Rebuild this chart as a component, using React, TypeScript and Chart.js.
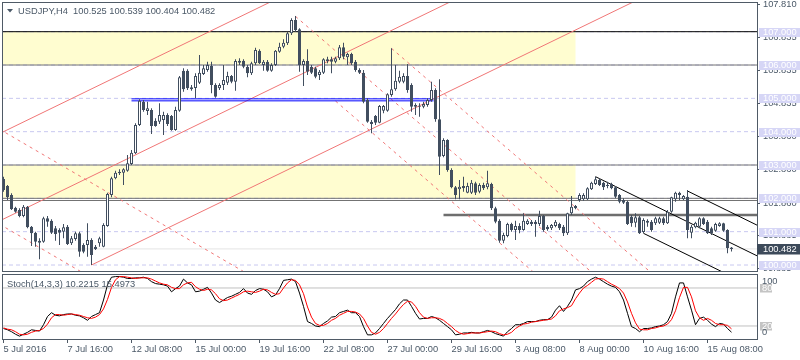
import React, { useEffect, useRef } from "react";
import { Chart, registerables } from "chart.js";
Chart.register(...registerables);

// ---------- DATA ----------
const symbol = "USDJPY,H4";

const opens = [
  102.58, 102.37, 102.10, 101.72, 101.65, 101.47, 101.75, 101.15, 100.97, 100.73,
  100.70, 101.40, 101.33, 101.10, 101.05, 101.00, 101.15, 100.65, 100.78, 100.95,
  100.60, 100.60, 100.75, 100.55, 100.65, 100.55, 101.17, 102.10, 102.60, 102.80,
  102.77, 102.83, 103.03, 103.35, 104.20, 104.90, 104.62, 104.65, 104.33, 104.30,
  104.35, 104.50, 104.47, 104.05, 104.63, 105.83, 105.83, 105.33, 105.31, 105.47,
  105.73, 105.85, 105.98, 105.40, 105.30, 105.40, 105.47, 105.67, 105.50, 106.13,
  106.13, 105.95, 105.75, 106.05, 106.43, 106.00, 106.10, 105.83, 106.00, 106.40,
  106.55, 106.65, 106.95, 107.35, 107.07, 106.00, 106.12, 105.95, 105.90, 105.70,
  105.77, 106.12, 106.17, 106.10, 106.20, 106.53, 106.23, 106.33, 106.10, 105.85,
  105.77, 104.95, 104.30, 104.47, 104.27, 104.63, 104.63, 105.10, 105.27, 105.50,
  105.50, 105.67, 105.40, 104.75, 104.78, 104.75, 104.80, 104.95, 105.25, 104.37,
  103.27, 103.75, 102.85, 102.33, 102.27, 102.37, 102.17, 102.17, 102.45, 102.20,
  102.40, 102.33, 102.43, 101.70, 101.33, 100.73, 100.87, 101.23, 101.05, 101.17,
  101.05, 101.23, 101.30, 101.30, 101.23, 101.47, 101.15, 101.10, 101.17, 101.23,
  101.15, 100.95, 101.55, 101.77, 101.95, 101.97, 101.97, 102.27, 102.43, 102.55,
  102.47, 102.40, 102.43, 102.33, 102.10, 101.95, 101.90, 101.45, 101.27, 101.43,
  100.99, 101.33, 101.30, 101.25, 101.27, 101.40, 101.25, 101.60, 101.97, 102.17,
  101.97, 102.05, 100.97, 101.13, 101.15, 101.40, 101.30, 101.10, 101.03, 101.17,
  101.25, 101.05, 100.525,
];

const highs = [
  102.65, 102.40, 102.15, 101.75, 101.70, 101.80, 101.77, 101.17, 101.00, 100.80,
  101.45, 101.47, 101.37, 101.17, 101.10, 101.23, 101.20, 100.87, 101.00, 101.00,
  100.65, 101.25, 100.80, 100.60, 100.85, 101.25, 102.17, 102.65, 102.83, 102.87,
  102.90, 103.30, 103.45, 104.25, 104.97, 104.95, 104.90, 104.70, 104.40, 104.85,
  104.60, 104.55, 104.50, 104.75, 105.67, 105.90, 105.87, 105.40, 105.75, 106.30,
  106.00, 106.10, 106.10, 105.45, 105.45, 106.00, 105.80, 105.70, 106.17, 106.20,
  106.17, 106.00, 106.10, 106.52, 106.47, 106.15, 106.15, 106.05, 106.45, 106.67,
  106.77, 107.00, 107.40, 107.47, 107.10, 106.17, 106.47, 106.00, 105.95, 105.85,
  106.20, 106.25, 106.25, 106.25, 106.60, 106.67, 106.37, 106.37, 106.15, 105.90,
  105.85, 105.00, 104.35, 104.50, 104.80, 104.80, 105.15, 106.50, 106.00, 105.83,
  105.75, 106.03, 105.45, 104.85, 104.85, 104.90, 105.00, 105.50, 105.30, 105.57,
  103.80, 103.77, 102.90, 102.37, 102.55, 102.65, 102.47, 102.55, 102.50, 102.45,
  102.47, 102.83, 102.47, 101.75, 101.37, 100.97, 101.27, 101.27, 101.33, 101.25,
  101.55, 101.37, 101.35, 101.35, 101.63, 101.50, 101.20, 101.23, 101.35, 101.27,
  101.20, 101.57, 102.07, 101.80, 102.15, 102.15, 102.33, 102.50, 102.65, 102.60,
  102.50, 102.50, 102.47, 102.37, 102.13, 102.00, 101.93, 101.50, 101.55, 101.47,
  101.40, 101.37, 101.35, 101.45, 101.45, 101.45, 101.65, 102.05, 102.20, 102.20,
  102.10, 102.25, 101.20, 101.30, 101.43, 101.43, 101.35, 101.15, 101.27, 101.28,
  101.27, 101.07, 100.539,
];

const lows = [
  102.20, 101.95, 101.65, 101.57, 101.43, 101.43, 101.10, 100.57, 100.55, 100.17,
  100.67, 101.15, 100.93, 100.73, 100.60, 100.80, 100.60, 100.60, 100.73, 100.25,
  100.35, 100.25, 100.00, 100.45, 100.55, 100.53, 101.15, 102.03, 102.57, 102.70,
  102.40, 102.80, 103.00, 103.33, 104.17, 104.60, 104.50, 103.93, 104.15, 104.23,
  103.90, 104.17, 104.03, 104.03, 104.60, 105.20, 105.25, 105.23, 105.00, 105.43,
  105.70, 105.80, 105.15, 105.02, 105.25, 105.25, 105.40, 105.45, 105.23, 106.00,
  105.90, 105.63, 105.70, 106.00, 106.03, 105.83, 105.80, 105.80, 105.97, 106.37,
  106.50, 106.60, 106.90, 107.00, 105.80, 105.37, 105.70, 105.73, 105.60, 105.55,
  105.73, 106.05, 105.75, 106.05, 106.15, 106.17, 106.00, 106.00, 105.80, 105.73,
  104.85, 104.27, 103.95, 104.20, 104.25, 104.55, 104.60, 105.05, 105.23, 105.45,
  105.45, 105.17, 104.60, 104.50, 104.45, 104.70, 104.75, 104.90, 104.30, 102.70,
  103.23, 102.80, 102.30, 101.97, 101.97, 102.20, 102.15, 102.13, 102.10, 102.15,
  102.25, 102.27, 101.65, 101.25, 100.67, 100.65, 100.83, 101.00, 100.75, 100.95,
  101.03, 101.20, 101.17, 100.85, 101.17, 101.00, 101.03, 101.05, 101.13, 101.05,
  100.87, 100.90, 101.50, 101.67, 101.90, 101.93, 101.95, 102.25, 102.40, 102.37,
  102.25, 102.30, 102.27, 102.00, 101.85, 101.83, 101.20, 101.15, 101.13, 100.93,
  100.95, 101.15, 101.00, 101.20, 101.23, 101.20, 101.23, 101.57, 101.90, 101.95,
  101.95, 100.80, 100.80, 101.10, 101.10, 101.20, 100.93, 100.90, 101.00, 101.15,
  101.00, 100.35, 100.404,
];

const closes = [
  102.25, 102.03, 101.67, 101.60, 101.47, 101.75, 101.13, 100.95, 100.70, 100.67,
  101.40, 101.30, 100.97, 100.93, 100.97, 101.13, 100.63, 100.80, 100.95, 100.40,
  100.40, 100.75, 100.30, 100.47, 100.80, 101.20, 102.13, 102.60, 102.77, 102.75,
  102.87, 103.05, 103.37, 104.20, 104.93, 104.65, 104.70, 104.17, 104.17, 104.50,
  104.50, 104.23, 104.05, 104.65, 105.63, 105.27, 105.30, 105.27, 105.67, 105.77,
  105.90, 106.00, 105.40, 105.05, 105.40, 105.55, 105.67, 105.50, 106.12, 106.07,
  105.95, 105.75, 106.05, 106.45, 106.05, 106.10, 105.83, 106.00, 106.43, 106.55,
  106.67, 106.95, 107.35, 107.05, 106.00, 106.12, 105.80, 105.77, 105.65, 105.80,
  106.17, 106.17, 106.10, 106.20, 106.53, 106.25, 106.33, 106.05, 105.85, 105.77,
  104.90, 104.30, 104.23, 104.27, 104.77, 104.77, 105.12, 105.27, 105.53, 105.65,
  105.67, 105.25, 104.75, 104.80, 104.75, 104.83, 104.95, 105.25, 104.37, 103.25,
  103.75, 102.85, 102.33, 102.10, 102.35, 102.30, 102.37, 102.47, 102.17, 102.40,
  102.30, 102.45, 101.70, 101.30, 100.73, 100.90, 101.23, 101.05, 101.17, 101.05,
  101.33, 101.33, 101.23, 101.23, 101.47, 101.05, 101.07, 101.20, 101.30, 101.10,
  100.95, 101.55, 101.75, 101.70, 102.10, 102.10, 102.30, 102.47, 102.57, 102.40,
  102.33, 102.37, 102.30, 102.05, 101.90, 101.87, 101.23, 101.25, 101.43, 100.95,
  101.35, 101.27, 101.05, 101.40, 101.40, 101.25, 101.60, 102.03, 102.17, 102.10,
  102.07, 101.05, 101.15, 101.27, 101.40, 101.23, 100.95, 100.95, 101.23, 101.25,
  101.03, 100.50, 100.482,
];

const stochMain = [
  16, 14, 11, 7, 4, 7, 10, 14, 13, 12,
  22, 35, 41, 37, 36, 38, 39, 39, 37, 36,
  33, 29, 35, 38, 41, 61, 85, 97, 98, 98,
  97, 95, 95, 96, 96, 97, 95, 90, 87, 86,
  85, 83, 74, 79, 83, 94, 88, 85, 74, 75,
  78, 81, 72, 61, 57, 61, 65, 67, 70, 73,
  79, 72, 70, 76, 79, 78, 74, 66, 69, 79,
  92, 93, 94, 90, 72, 51, 27, 24, 20, 19,
  24, 28, 34, 35, 41, 43, 45, 41, 41, 35,
  19, 6, 6, 9, 16, 24, 32, 39, 46, 55,
  61, 61, 51, 40, 31, 32, 32, 35, 33, 29,
  24, 19, 14, 6, 7, 9, 9, 10, 9, 9,
  11, 13, 11, 8, 6, 4, 11, 16, 22, 22,
  24, 27, 27, 27, 29, 30, 30, 34, 45, 52,
  43, 51, 61, 77, 79, 83, 90, 94, 97, 94,
  90, 86, 83, 81, 74, 61, 40, 19, 16, 11,
  16, 16, 17, 19, 20, 22, 27, 40, 66, 88,
  88, 66, 45, 22, 32, 34, 29, 23, 19, 24,
  23, 16, 10.2215,
];

const stochSignal = [
  17, 15, 14, 11, 7, 6, 7, 10, 12, 13,
  16, 23, 33, 38, 38, 37, 38, 39, 38, 37,
  35, 33, 32, 34, 38, 47, 62, 81, 93, 98,
  98, 97, 96, 95, 96, 96, 96, 94, 91, 88,
  86, 85, 81, 79, 79, 85, 88, 89, 82, 78,
  76, 78, 77, 71, 63, 60, 61, 64, 67, 70,
  74, 75, 74, 73, 75, 78, 77, 73, 70, 71,
  80, 88, 93, 92, 85, 71, 50, 34, 24, 21,
  21, 24, 29, 32, 37, 40, 43, 43, 42, 39,
  32, 20, 10, 7, 10, 16, 24, 32, 39, 47,
  54, 59, 58, 51, 41, 34, 32, 33, 33, 32,
  29, 24, 19, 13, 9, 7, 8, 9, 9, 9,
  10, 11, 12, 11, 8, 6, 7, 10, 16, 20,
  23, 24, 26, 27, 28, 29, 30, 31, 36, 44,
  47, 49, 52, 63, 72, 80, 84, 89, 94, 95,
  94, 90, 86, 83, 79, 72, 58, 40, 25, 15,
  14, 14, 16, 17, 19, 20, 23, 30, 44, 65,
  81, 81, 66, 44, 33, 29, 32, 29, 24, 22,
  22, 21, 15.4973,
];

const stochLevels = [80, 20];
const stochAxisLabels = [100, 80, 20, 0];

const xTickBars = [0, 16, 32, 48, 64, 80, 96, 112, 128, 144, 160, 176];
const xTickLabels = [
  "5 Jul 2016", "7 Jul 16:00", "12 Jul 08:00", "15 Jul 00:00", "19 Jul 16:00", "22 Jul 08:00",
  "27 Jul 00:00", "29 Jul 16:00", "3 Aug 08:00", "8 Aug 00:00", "10 Aug 16:00", "15 Aug 08:00",
];

const priceTicks = [107.81, 106.835, 105.835, 104.835, 103.86, 102.86, 101.86, 100.885, 99.885];
const levelPrices = [107, 106, 105, 104, 103, 102, 101, 100];

// chart objects (bar index, price)
const yellowZones = [
  [-1, 143, 107, 106],
  [-1, 143, 103, 102],
];
const redSolidLines = [
  [-2, 103.883, 70, 108.083],
  [-2, 101.263, 130, 108.963],
  [22, 100.0, 190, 109.79],
];
const redDashedLines = [
  [-1, 104.075, 70, 99.105],
  [-1, 101.225, 30, 99.055],
  [73, 107.46, 150, 99.475],
  [97, 106.5, 170, 98.93],
  [83, 104.92, 150, 97.97],
];
const blackTrendLines = [
  [148, 102.65, 190, 100.18],
  [160, 100.95, 190, 99.19],
  [171, 102.22, 190, 101.1],
];
const blackLevels = [107.0];
const grayLevels = [106.0, 103.0, 102.0, 101.935];
const thickLevel = [110, 101.5];
const blueLevels = [104.985, 104.925];
const blueRange = [32, 107.5];

// ---------- STYLE ----------
const FONT = '"Liberation Sans", Arial, sans-serif';
const FS = 9.3;
const TXT = "#4a5867";
const CANDLE = "#414e5f";
const FRAME = "#4f5a66";
const X_MIN = -0.125;
const X_MAX = 188.375;

export default function App() {
  const mainRef = useRef<HTMLCanvasElement>(null);
  const stochRef = useRef<HTMLCanvasElement>(null);

  useEffect(() => {
    document.body.style.margin = "0";
    Chart.defaults.font.family = FONT;
    const n = closes.length;
    const last = n - 1;
    const idx = closes.map((_, i) => i);

    const seg = (x1: number, y1: number, x2: number, y2: number, color: string, width: number, dash: number[], order: number) => ({
      type: "line" as const,
      data: [{ x: x1, y: y1 }, { x: x2, y: y2 }],
      borderColor: color,
      borderWidth: width,
      borderDash: dash,
      pointRadius: 0,
      fill: false,
      tension: 0,
      order,
    });

    const lineSets: any[] = [];
    levelPrices.forEach((p) => lineSets.push(seg(X_MIN - 2, p, X_MAX + 2, p, "#c8c8f0", 1, [4, 3], 30)));
    lineSets.push(seg(X_MIN - 2, closes[last], X_MAX + 2, closes[last], "#e4e4e4", 1, [], 29));
    grayLevels.forEach((p) => lineSets.push(seg(X_MIN - 2, p, X_MAX + 2, p, "#737373", 1, [], 20)));
    blackLevels.forEach((p) => lineSets.push(seg(X_MIN - 2, p, X_MAX + 2, p, "#000000", 1, [], 20)));
    lineSets.push(seg(thickLevel[0], thickLevel[1], X_MAX + 2, thickLevel[1], "#6e6e6e", 2.5, [], 20));
    redDashedLines.forEach((l) => lineSets.push(seg(l[0], l[1], l[2], l[3], "#f07676", 1, [3, 4], 15)));
    redSolidLines.forEach((l) => lineSets.push(seg(l[0], l[1], l[2], l[3], "#f07676", 1, [], 14)));
    blackTrendLines.forEach((l) => lineSets.push(seg(l[0], l[1], l[2], l[3], "#000000", 1, [], 12)));
    blueLevels.forEach((p) => lineSets.push(seg(blueRange[0], p, blueRange[1], p, "#0000ff", 1, [], 11)));

    const bodies = {
      type: "bar" as const,
      data: idx.map((i) => ({ x: i, y: [opens[i], closes[i]] })),
      backgroundColor: idx.map((i) => (closes[i] >= opens[i] ? "#ffffff" : CANDLE)),
      borderColor: CANDLE,
      borderWidth: 1,
      borderSkipped: false,
      barThickness: 3,
      minBarLength: 1,
      grouped: false,
      inflateAmount: 0,
      order: 0,
    };
    const wicks = {
      type: "bar" as const,
      data: idx.map((i) => ({ x: i, y: [lows[i], highs[i]] })),
      backgroundColor: CANDLE,
      borderWidth: 0,
      barThickness: 1,
      grouped: false,
      inflateAmount: 0,
      order: 1,
    };

    const headerText = `${symbol}  ${opens[last].toFixed(3)} ${highs[last].toFixed(3)} ${lows[last].toFixed(3)} ${closes[last].toFixed(3)}`;

    const mainDecor = {
      id: "mainDecor",
      beforeDatasetsDraw(chart: any) {
        const { ctx, chartArea: a, scales } = chart;
        const xs = scales.x, ys = scales.y;
        ctx.save();
        ctx.beginPath();
        ctx.rect(a.left, a.top, a.right - a.left, a.bottom - a.top);
        ctx.clip();
        ctx.fillStyle = "#fffdd0";
        yellowZones.forEach((z) => {
          const x1 = xs.getPixelForValue(z[0]);
          const x2 = xs.getPixelForValue(z[1]);
          const y1 = ys.getPixelForValue(z[2]);
          const y2 = ys.getPixelForValue(z[3]);
          ctx.fillRect(x1, y1, x2 - x1, y2 - y1);
        });
        ctx.restore();
      },
      afterDraw(chart: any) {
        const { ctx, chartArea: a, scales } = chart;
        const ys = scales.y;
        ctx.save();
        ctx.strokeStyle = FRAME;
        ctx.lineWidth = 1;
        ctx.strokeRect(a.left - 0.5, a.top - 0.5, a.right - a.left + 1, a.bottom - a.top + 1);
        // header
        ctx.fillStyle = TXT;
        ctx.beginPath();
        ctx.moveTo(7, 9);
        ctx.lineTo(13, 9);
        ctx.lineTo(10, 12.5);
        ctx.closePath();
        ctx.fill();
        ctx.font = `${FS}px ${FONT}`;
        ctx.textBaseline = "middle";
        ctx.textAlign = "left";
        ctx.fillText(headerText, 18, 11);
        // level boxes
        levelPrices.forEach((p) => {
          const yy = Math.round(ys.getPixelForValue(p));
          ctx.fillStyle = "#d6d6f6";
          ctx.fillRect(a.right + 2, yy - 4, 800 - a.right - 2, 9);
          ctx.fillStyle = "#ffffff";
          ctx.fillText(p.toFixed(3), a.right + 6, yy + 0.5);
        });
        // bid box
        const by = Math.round(ys.getPixelForValue(closes[last]));
        ctx.fillStyle = "#3d4a5a";
        ctx.fillRect(a.right, by - 5, 800 - a.right, 10.5);
        ctx.fillStyle = "#ffffff";
        ctx.fillText(closes[last].toFixed(3), a.right + 6, by + 0.5);
        ctx.restore();
      },
    };

    const main = new Chart(mainRef.current as HTMLCanvasElement, {
      type: "bar",
      data: { datasets: [bodies, wicks, ...lineSets] as any },
      options: {
        animation: false,
        responsive: false,
        devicePixelRatio: 1,
        events: [],
        layout: { padding: { left: 3, top: 3, right: 0, bottom: 2 } },
        plugins: { legend: { display: false }, tooltip: { enabled: false } },
        scales: {
          x: { type: "linear", display: false, min: X_MIN, max: X_MAX, offset: false },
          y: {
            type: "linear",
            position: "right",
            min: 99.82,
            max: 107.861,
            beginAtZero: false,
            afterBuildTicks: (s: any) => {
              s.ticks = priceTicks.map((v) => ({ value: v }));
            },
            afterFit: (s: any) => {
              s.width = 43;
              s.paddingTop = 0;
              s.paddingBottom = 0;
            },
            ticks: {
              autoSkip: false,
              padding: 3,
              color: TXT,
              font: { family: FONT, size: FS },
              callback: (v: any) => Number(v).toFixed(3),
            },
            grid: { drawOnChartArea: false, tickLength: 3, color: FRAME },
            border: { display: false },
          },
        },
      } as any,
      plugins: [mainDecor],
    });

    const stochTitle = `Stoch(14,3,3) ${stochMain[last].toFixed(4)} ${stochSignal[last].toFixed(4)}`;
    const stochDecor = {
      id: "stochDecor",
      afterDraw(chart: any) {
        const { ctx, chartArea: a, scales } = chart;
        const ys = scales.y;
        ctx.save();
        ctx.strokeStyle = FRAME;
        ctx.lineWidth = 1;
        ctx.strokeRect(a.left - 0.5, a.top - 0.5, a.right - a.left + 1, a.bottom - a.top + 1);
        ctx.font = `${FS}px ${FONT}`;
        ctx.textBaseline = "middle";
        ctx.textAlign = "left";
        ctx.fillStyle = TXT;
        ctx.fillText(stochTitle, 7, 11.5);
        stochAxisLabels.forEach((v) => {
          const raw = ys.getPixelForValue(v);
          let yy = raw;
          if (v === 100) yy = raw + 6;
          if (v === 0) yy = raw - 6;
          if (v === 80 || v === 20) {
            ctx.fillStyle = "#c4c4c4";
            ctx.fillRect(a.right + 3, Math.round(yy) - 4, 12, 8.5);
            ctx.fillStyle = "#ffffff";
            ctx.fillText(String(v), a.right + 5, Math.round(yy) + 0.5);
          } else {
            ctx.fillStyle = TXT;
            ctx.fillText(String(v), a.right + 5, yy);
          }
        });
        ctx.restore();
      },
    };

    const stoch = new Chart(stochRef.current as HTMLCanvasElement, {
      type: "line",
      data: {
        datasets: [
          {
            data: idx.map((i) => ({ x: i, y: stochSignal[i] })),
            borderColor: "#ff0000",
            borderWidth: 1,
            pointRadius: 0,
            tension: 0,
            order: 1,
          },
          {
            data: idx.map((i) => ({ x: i, y: stochMain[i] })),
            borderColor: "#000000",
            borderWidth: 1,
            pointRadius: 0,
            tension: 0,
            order: 2,
          },
          ...stochLevels.map((lv) => ({
            data: [{ x: X_MIN - 2, y: lv }, { x: X_MAX + 2, y: lv }],
            borderColor: "#c0c0c0",
            borderWidth: 1,
            pointRadius: 0,
            order: 3,
          })),
        ],
      },
      options: {
        animation: false,
        responsive: false,
        devicePixelRatio: 1,
        events: [],
        layout: { padding: { left: 3, top: 2, right: 43, bottom: 0 } },
        plugins: { legend: { display: false }, tooltip: { enabled: false } },
        scales: {
          x: {
            type: "linear",
            position: "bottom",
            min: X_MIN,
            max: X_MAX,
            offset: false,
            afterBuildTicks: (s: any) => {
              s.ticks = xTickBars.map((v) => ({ value: v }));
            },
            afterFit: (s: any) => {
              s.height = 21;
              s.paddingLeft = 0;
              s.paddingRight = 0;
            },
            ticks: {
              autoSkip: false,
              maxRotation: 0,
              minRotation: 0,
              align: "start",
              padding: 1,
              color: TXT,
              font: { family: FONT, size: FS },
              callback: (v: any) => xTickLabels[xTickBars.indexOf(Number(v))],
            },
            grid: { drawOnChartArea: false, tickLength: 4, color: FRAME, offset: false },
            border: { display: false },
          },
          y: { type: "linear", display: false, min: -0.53, max: 100.5 },
        },
      } as any,
      plugins: [stochDecor],
    });

    return () => {
      main.destroy();
      stoch.destroy();
    };
  }, []);

  return (
    <div style={{ position: "relative", width: 800, height: 360, background: "#ffffff", overflow: "hidden" }}>
      <canvas ref={mainRef} width={800} height={273} style={{ position: "absolute", left: 0, top: 0, width: 800, height: 273 }} />
      <canvas ref={stochRef} width={800} height={87} style={{ position: "absolute", left: 0, top: 273, width: 800, height: 87 }} />
    </div>
  );
}
